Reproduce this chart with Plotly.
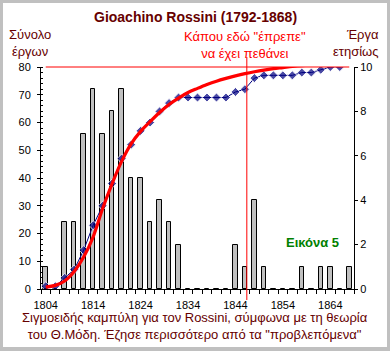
import plotly.graph_objects as go

# ---- data ----
years = [1804, 1806, 1808, 1810, 1812, 1814, 1816, 1818, 1820, 1822, 1824,
         1826, 1828, 1830, 1832, 1834, 1836, 1838, 1840, 1842, 1844, 1846,
         1848, 1850, 1852, 1854, 1856, 1858, 1860, 1862, 1864, 1866, 1868]
annual_works = [1, 0, 3, 3, 7, 9, 7, 8, 9, 5, 5, 3, 4, 3, 2, 0, 0, 0, 0, 0,
                2, 1, 4, 1, 0, 0, 0, 1, 0, 1, 1, 0, 1]
cumulative_works = [1, 1, 4, 7, 14, 23, 30, 38, 47, 52, 57, 60, 64, 67, 69,
                    69, 69, 69, 69, 69, 71, 72, 76, 77, 77, 77, 77, 78, 78,
                    79, 80, 80, 81]
sigmoid_fit = [0.7, 1.3, 2.9, 6.3, 11.5, 18.8, 29, 38, 46, 52.3, 56.8,
               60.3, 63.6, 66.5, 68.8, 70.8, 72.3, 73.7, 74.9, 75.9, 76.8,
               77.6, 78.3, 78.9, 79.4, 79.8, 80.2, 80.5, 80.7, 80.9, 81.0,
               81.1, 81.2]
x_ticks = [1804, 1814, 1824, 1834, 1844, 1854, 1864]
expected_death = 1846.4

MAROON = "#660000"
FONT = "Arial, Liberation Sans, sans-serif"

fig = go.Figure()
fig.add_bar(x=years, y=annual_works, yaxis="y", width=0.95,
            marker=dict(color="#c0c0c0", line=dict(color="black", width=1)),
            showlegend=False)
marker_sizes = [7] * (len(years) - 1) + [0]
fig.add_scatter(x=years, y=cumulative_works, yaxis="y2", mode="lines+markers",
                line=dict(color="#000080", width=1),
                marker=dict(symbol="diamond", size=marker_sizes, color="#000080"),
                showlegend=False)
fig.add_scatter(x=years, y=sigmoid_fit, yaxis="y2", mode="lines",
                line=dict(color="#ff0000", width=3.2, shape="spline"),
                showlegend=False)

def px_x(px):
    return (px - 41) / 313.0

def px_y(py):
    return (289 - py) / 222.0

shapes = [
    dict(type="rect", xref="paper", yref="paper", layer="below",
         x0=px_x(3), x1=px_x(387), y0=px_y(347), y1=px_y(3),
         fillcolor="white", line=dict(width=0)),
    dict(type="line", xref="x", yref="paper", x0=years[0], x1=years[-1],
         y0=1, y1=1, line=dict(color="#ff0000", width=1)),
    dict(type="line", xref="x", yref="paper", x0=expected_death, x1=expected_death,
         y0=px_y(57), y1=px_y(300), line=dict(color="#ff0000", width=1)),
]

annotations = [
    dict(text="<b>Gioachino Rossini (1792-1868)</b>", x=px_x(195), y=px_y(17),
         xref="paper", yref="paper", showarrow=False, xanchor="center", yanchor="middle",
         font=dict(family=FONT, size=14, color=MAROON)),
    dict(text="Σύνολο<br>έργων", x=px_x(30), y=px_y(43),
         xref="paper", yref="paper", showarrow=False, xanchor="center", yanchor="middle",
         align="center", font=dict(family=FONT, size=13, color=MAROON)),
    dict(text="Έργα<br>ετησίως", x=px_x(381), y=px_y(43),
         xref="paper", yref="paper", showarrow=False, xanchor="right", yanchor="middle",
         align="right", font=dict(family=FONT, size=13, color=MAROON)),
    dict(text="Κάπου εδώ \"έπρεπε\"<br>να έχει πεθάνει", x=px_x(245), y=px_y(44.5),
         xref="paper", yref="paper", showarrow=False, xanchor="center", yanchor="middle",
         align="center", font=dict(family=FONT, size=13, color="#ff0000")),
    dict(text="<b>Εικόνα 5</b>", x=px_x(312), y=px_y(242),
         xref="paper", yref="paper", showarrow=False, xanchor="center", yanchor="middle",
         font=dict(family=FONT, size=13, color="#008000")),
    dict(text="Σιγμοειδής καμπύλη για τον Rossini, σύμφωνα με τη θεωρία<br>"
              "του Θ.Μόδη. Έζησε περισσότερο από τα \"προβλεπόμενα\"",
         x=px_x(195), y=px_y(325.5),
         xref="paper", yref="paper", showarrow=False, xanchor="center", yanchor="middle",
         align="center", font=dict(family=FONT, size=13, color=MAROON)),
]

fig.update_layout(
    width=390, height=351,
    margin=dict(l=41, r=36, t=67, b=62, pad=0),
    paper_bgcolor="#c0c0c0", plot_bgcolor="white",
    font=dict(family=FONT, size=11, color="black"),
    bargap=0,
    shapes=shapes, annotations=annotations,
    xaxis=dict(range=[1803, 1869], tickmode="array", tickvals=x_ticks,
               ticks="", showline=True, linecolor="black", linewidth=1,
               showgrid=False, zeroline=False, tickfont=dict(size=11),
               ticklabelstandoff=6,
               minor=dict(tick0=1803, dtick=2, ticks="outside", ticklen=4,
                          tickcolor="black", showgrid=False)),
    yaxis=dict(range=[0, 10], side="right", dtick=2, ticks="outside", ticklen=3,
               tickcolor="black", showline=True, linecolor="black", linewidth=1,
               showgrid=False, zeroline=False, tickfont=dict(size=11)),
    yaxis2=dict(range=[0, 80], side="left", overlaying="y", dtick=10,
                ticks="outside", ticklen=3, tickcolor="black", showline=True,
                linecolor="black", linewidth=1, showgrid=False, zeroline=False,
                tickfont=dict(size=11), ticklabelstandoff=4,
                minor=dict(dtick=2, ticks="inside", ticklen=2, tickcolor="black",
                           showgrid=False)),
)

fig.write_html("out.html")
